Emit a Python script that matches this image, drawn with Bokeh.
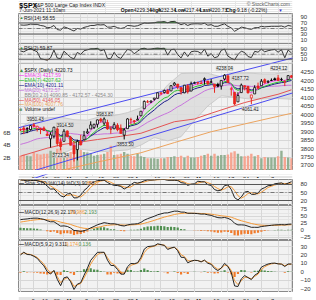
import numpy as np
from bokeh.plotting import figure
from bokeh.layouts import column
from bokeh.models import Range1d, LinearAxis, FixedTicker, Label, Grid, Span
from bokeh.embed import file_html
from bokeh.resources import INLINE

# ---------------- data (read / estimated from the chart) ----------------
tick_idx = [0, 4, 8, 13, 18, 23, 28, 33, 36, 42, 47, 52, 57, 62, 67, 72, 77, 81]
tick_lbl = ["9", "16", "22", "Mar", "8", "15", "22", "29", "Apr", "12", "19", "26",
            "May", "10", "17", "24", "Jun", "7"]
month_lbls = ["Mar", "Apr", "May", "Jun"]

prev_close_first = 3915.59
opens = [3910.5, 3920.8, 3916.4, 3911.7, 3939.6, 3918.5, 3915.9, 3921.2, 3885.6, 3857.1,
         3873.7, 3915.8, 3839.7, 3842.5, 3903.6, 3864.0, 3818.5, 3793.6, 3844.4, 3851.9,
         3892.0, 3915.5, 3924.5, 3943.0, 3973.6, 3949.6, 3953.5, 3913.1, 3916.5, 3937.6,
         3919.9, 3879.3, 3917.1, 3969.3, 3963.3, 3967.3, 3992.8, 4034.4, 4075.6, 4074.3,
         4090.0, 4096.1, 4124.7, 4130.1, 4141.6, 4139.8, 4174.1, 4179.8, 4159.2, 4128.4,
         4170.5, 4138.8, 4185.0, 4188.3, 4185.1, 4206.1, 4198.1, 4192.0, 4179.0, 4177.1,
         4169.1, 4210.3, 4228.3, 4150.3, 4130.6, 4075.0, 4129.6, 4169.9, 4165.9, 4098.5,
         4122.0, 4168.6, 4170.2, 4205.9, 4191.6, 4201.9, 4210.8, 4216.5, 4206.8, 4191.4,
         4206.1, 4229.3]
highs = [3918.4, 3931.5, 3926.0, 3937.2, 3950.4, 3933.6, 3922.0, 3930.4, 3902.9, 3896.0,
         3928.7, 3925.0, 3861.1, 3914.5, 3906.4, 3874.5, 3843.7, 3851.7, 3881.1, 3903.8,
         3917.4, 3960.3, 3945.0, 3970.1, 3981.0, 3983.9, 3969.6, 3930.1, 3955.3, 3949.1,
         3942.1, 3919.5, 3978.2, 3981.8, 3968.0, 3994.4, 4020.6, 4083.4, 4086.2, 4083.1,
         4098.2, 4129.5, 4131.8, 4148.0, 4151.7, 4173.5, 4191.3, 4180.8, 4159.2, 4175.0,
         4179.6, 4194.2, 4194.2, 4193.4, 4201.5, 4218.8, 4198.1, 4209.4, 4179.0, 4187.7,
         4202.7, 4238.0, 4236.4, 4162.0, 4134.7, 4131.6, 4183.1, 4171.9, 4169.2, 4116.9,
         4172.8, 4188.7, 4209.5, 4213.4, 4202.6, 4213.4, 4218.4, 4234.1, 4217.4, 4204.4,
         4233.5, 4232.3]
lows = [3902.6, 3884.9, 3890.4, 3905.8, 3923.9, 3900.4, 3885.0, 3903.1, 3874.7, 3805.6,
        3859.6, 3814.0, 3789.5, 3842.5, 3868.6, 3818.9, 3723.3, 3730.2, 3819.3, 3851.9,
        3885.7, 3915.5, 3915.2, 3923.5, 3953.4, 3935.7, 3910.9, 3886.8, 3914.2, 3901.6,
        3889.1, 3853.5, 3917.1, 3943.3, 3944.4, 3967.0, 3992.8, 4034.4, 4068.1, 4068.3,
        4082.5, 4095.5, 4114.8, 4124.4, 4120.9, 4139.8, 4170.8, 4150.5, 4118.4, 4126.4,
        4123.7, 4138.8, 4182.4, 4176.2, 4181.8, 4176.8, 4174.9, 4188.0, 4128.6, 4160.9,
        4147.3, 4201.6, 4188.1, 4111.5, 4056.9, 4075.0, 4129.6, 4142.7, 4126.0, 4061.4,
        4122.0, 4151.7, 4170.2, 4182.5, 4184.1, 4197.8, 4203.6, 4197.6, 4198.3, 4167.9,
        4206.1, 4217.4]
closes = [3911.2, 3909.9, 3916.4, 3934.8, 3932.6, 3931.3, 3914.0, 3906.7, 3876.5, 3881.4,
          3925.4, 3829.3, 3811.2, 3901.8, 3870.3, 3819.7, 3768.5, 3841.9, 3821.4, 3875.4,
          3898.8, 3939.3, 3943.3, 3968.9, 3962.7, 3974.1, 3915.5, 3913.1, 3940.6, 3910.5,
          3889.1, 3909.5, 3974.5, 3971.1, 3958.6, 3972.9, 4019.9, 4077.9, 4073.9, 4080.0,
          4097.2, 4128.8, 4128.0, 4141.6, 4124.7, 4170.4, 4185.5, 4163.3, 4134.9, 4173.4,
          4135.0, 4180.2, 4187.6, 4186.7, 4183.2, 4211.5, 4181.2, 4192.7, 4164.7, 4167.6,
          4201.6, 4232.6, 4188.4, 4152.1, 4063.0, 4112.5, 4173.9, 4163.3, 4127.8, 4115.7,
          4159.1, 4155.9, 4197.1, 4188.1, 4196.0, 4200.9, 4204.1, 4202.0, 4208.1, 4192.9,
          4229.9, 4220.7]
volume_b = [2.3, 2.5, 2.3, 2.2, 2.8, 2.6, 2.5, 2.6, 2.6, 3.1,
            2.9, 3.4, 3.5, 2.9, 2.6, 2.9, 3.6, 3.7, 3.2, 2.9,
            2.8, 2.7, 2.3, 2.4, 2.5, 2.6, 2.9, 3.9, 2.4, 2.5,
            2.6, 2.9, 2.6, 2.3, 2.2, 2.6, 2.2, 2.1, 1.9, 1.9,
            1.9, 1.8, 1.9, 1.9, 2.1, 2.1, 2.2, 2.1, 2.3, 2.0,
            2.3, 2.0, 2.0, 2.1, 2.3, 2.4, 2.6, 2.3, 2.6, 2.3,
            2.4, 2.4, 2.5, 2.8, 3.0, 2.6, 2.2, 2.2, 2.3, 2.6,
            2.2, 2.4, 1.9, 2.1, 2.0, 2.0, 2.0, 2.2, 3.1, 2.1,
            2.0, 1.9]
ema3 = [3912.0, 3910.9, 3913.6, 3924.2, 3928.4, 3929.9, 3921.9, 3914.3, 3895.4, 3888.4,
        3906.9, 3868.1, 3839.6, 3870.7, 3870.5, 3845.1, 3806.8, 3824.4, 3822.9, 3849.2,
        3874.0, 3906.7, 3925.0, 3947.0, 3954.9, 3964.5, 3940.0, 3926.6, 3933.6, 3922.1,
        3905.6, 3907.6, 3941.1, 3956.1, 3957.3, 3965.1, 3992.5, 4035.2, 4054.6, 4067.3,
        4082.2, 4105.5, 4116.7, 4129.1, 4126.9, 4148.7, 4167.1, 4165.2, 4150.1, 4161.8,
        4148.4, 4164.3, 4176.0, 4181.4, 4182.3, 4196.9, 4189.0, 4190.8, 4177.7, 4172.7,
        4187.2, 4209.9, 4199.2, 4175.6, 4119.3, 4115.9, 4144.9, 4154.1, 4141.0, 4128.3,
        4143.7, 4149.8, 4173.4, 4180.8, 4188.4, 4194.6, 4199.4, 4200.7, 4204.4, 4198.6,
        4214.2, 4217.6]
ema7 = [3897.6, 3900.7, 3904.6, 3912.2, 3917.3, 3920.8, 3919.1, 3916.0, 3906.1, 3899.9,
        3906.3, 3887.1, 3868.1, 3876.5, 3875.0, 3861.2, 3838.0, 3839.0, 3834.6, 3844.8,
        3858.3, 3878.6, 3894.8, 3913.3, 3925.7, 3937.8, 3932.2, 3927.4, 3930.7, 3925.7,
        3916.5, 3914.8, 3929.7, 3940.0, 3944.7, 3951.7, 3968.8, 3996.1, 4015.5, 4031.6,
        4048.0, 4068.2, 4083.2, 4097.8, 4104.5, 4121.0, 4137.1, 4143.6, 4141.5, 4149.5,
        4145.8, 4154.4, 4162.7, 4168.7, 4172.3, 4182.1, 4181.9, 4184.6, 4179.6, 4176.6,
        4182.9, 4195.3, 4193.6, 4183.2, 4153.2, 4143.0, 4150.7, 4153.9, 4147.4, 4139.4,
        4144.3, 4147.2, 4159.7, 4166.8, 4174.1, 4180.8, 4186.6, 4190.5, 4194.9, 4194.4,
        4203.3, 4207.6]
ema10 = [3885.7, 3890.1, 3894.9, 3902.2, 3907.7, 3912.0, 3912.4, 3911.4, 3905.0, 3900.7,
         3905.2, 3891.4, 3876.8, 3881.4, 3879.4, 3868.5, 3850.3, 3848.8, 3843.8, 3849.6,
         3858.5, 3873.2, 3886.0, 3901.1, 3912.3, 3923.5, 3922.1, 3920.5, 3924.1, 3921.6,
         3915.7, 3914.6, 3925.5, 3933.8, 3938.3, 3944.6, 3958.3, 3980.1, 3997.2, 4012.3,
         4027.7, 4046.1, 4061.0, 4075.7, 4084.6, 4100.2, 4115.7, 4124.4, 4126.3, 4134.9,
         4134.9, 4143.1, 4151.2, 4157.7, 4162.3, 4171.3, 4173.1, 4176.7, 4174.5, 4173.2,
         4178.4, 4188.3, 4188.3, 4181.7, 4160.1, 4151.4, 4155.5, 4156.9, 4151.6, 4145.1,
         4147.6, 4149.1, 4157.8, 4163.3, 4169.3, 4175.0, 4180.3, 4184.3, 4188.6, 4189.4,
         4196.8, 4201.1]
ma20 = [3824.4, 3829.8, 3835.2, 3842.2, 3850.4, 3857.1, 3860.3, 3863.0, 3864.8, 3866.1,
        3869.9, 3873.9, 3875.1, 3884.5, 3889.3, 3889.0, 3885.9, 3884.4, 3881.1, 3879.1,
        3878.5, 3880.0, 3881.3, 3883.0, 3884.5, 3886.6, 3886.7, 3887.0, 3890.2, 3891.7,
        3889.9, 3893.9, 3902.1, 3905.6, 3910.0, 3917.7, 3930.3, 3942.1, 3954.7, 3964.9,
        3974.8, 3984.3, 3993.5, 4002.1, 4010.2, 4020.0, 4033.5, 4046.0, 4055.7, 4068.8,
        4081.1, 4094.6, 4105.3, 4116.1, 4127.3, 4139.2, 4147.3, 4153.0, 4157.5, 4161.9,
        4167.1, 4172.3, 4175.3, 4175.8, 4172.7, 4169.8, 4169.2, 4169.2, 4168.8, 4165.9,
        4167.1, 4165.9, 4166.4, 4166.5, 4167.1, 4166.6, 4167.7, 4168.2, 4170.4, 4171.7,
        4173.1, 4172.6]
bb_x = [0, 4, 8, 12, 16, 20, 24, 28, 32, 36, 40, 44, 48, 52, 56, 60, 64, 68, 72, 76, 81]
bb_upper = [3924, 3970, 3981, 3985, 3970, 3967, 3989, 3994, 4012, 4040, 4085,
            4175, 4242, 4245, 4243, 4223, 4243, 4245, 4240, 4240, 4254.3]
bb_lower = [3724, 3730, 3749, 3765, 3802, 3791, 3781, 3786, 3792, 3820, 3865,
            3845, 3870, 3965, 4051, 4111, 4103, 4093, 4092, 4096, 4090.9]
ma50_x = [0, 8, 13, 23, 30, 36, 46, 52, 57, 62, 67, 72, 77, 81]
ma50 = [3755, 3802, 3825, 3853, 3872, 3890, 3958, 3974, 4008, 4040, 4071, 4096, 4120, 4146.1]
ma100_x = [0, 8, 13, 23, 36, 46, 57, 67, 77, 81]
ma100 = [3607, 3650, 3675, 3720, 3775, 3835, 3899, 3945, 3990, 4007.8]
rsi14 = [63, 62, 63, 66, 65, 65, 61, 59, 53, 54,
         61, 46, 44, 56, 52, 46, 41, 50, 48, 54,
         57, 61, 61, 64, 63, 64, 55, 55, 58, 53,
         50, 53, 61, 60, 58, 60, 65, 70, 69, 70,
         71, 74, 74, 75, 71, 75, 76, 70, 64, 68,
         61, 66, 67, 67, 66, 69, 62, 64, 58, 58,
         63, 67, 58, 52, 40, 47, 55, 53, 49, 47,
         53, 53, 58, 56, 57, 58, 58, 58, 59, 55,
         61, 58.55]
rsi2 = [75.8, 69.0, 83.6, 95.6, 81.4, 69.3, 13.9, 8.3, 1.9, 21.5,
        82.9, 18.8, 14.6, 73.7, 49.8, 24.4, 12.0, 64.2, 48.2, 77.6,
        85.0, 93.0, 93.6, 97.1, 76.7, 86.9, 15.9, 14.9, 65.1, 28.5,
        15.8, 54.5, 88.4, 81.8, 53.5, 74.1, 93.4, 97.7, 89.6, 91.7,
        96.1, 98.7, 95.5, 97.8, 42.5, 85.9, 90.5, 45.8, 20.2, 68.3,
        31.0, 69.7, 74.5, 71.8, 56.0, 90.4, 33.9, 55.2, 21.5, 30.3,
        80.9, 91.7, 35.0, 17.3, 5.0, 47.0, 74.7, 63.3, 31.3, 23.2,
        72.9, 66.3, 89.6, 69.1, 77.9, 83.9, 88.0, 65.8, 86.2, 21.6,
        83.1, 59.87]
sto_k = [97.3, 95.6, 93.8, 94.5, 95.2, 94.9, 90.5, 86.3, 74.0, 62.8,
         63.5, 50.5, 37.5, 33.2, 44.5, 46.3, 29.6, 30.3, 39.6, 57.4,
         68.2, 83.1, 89.5, 94.5, 95.1, 96.2, 87.6, 80.9, 76.7, 76.0,
         72.6, 63.1, 70.1, 79.3, 87.9, 85.2, 88.3, 94.0, 97.3, 96.5,
         97.2, 98.9, 99.3, 98.7, 95.8, 95.8, 95.8, 95.1, 87.1, 84.9,
         76.7, 81.3, 82.6, 92.3, 90.3, 89.7, 79.4, 76.5, 60.9, 56.4,
         59.3, 75.8, 78.3, 61.4, 30.7, 22.1, 32.9, 51.4, 54.2, 43.5,
         42.7, 47.9, 62.8, 68.2, 75.5, 76.5, 82.7, 84.4, 86.0, 80.0,
         85.2, 90.63]
sto_d = [96.4, 96.6, 95.6, 94.6, 94.5, 94.9, 93.5, 90.6, 83.6, 74.4,
         66.8, 58.9, 50.5, 40.4, 38.4, 41.3, 40.1, 35.4, 33.2, 42.4,
         55.1, 69.6, 80.3, 89.0, 93.0, 95.3, 93.0, 88.2, 81.7, 77.9,
         75.1, 70.6, 68.6, 70.8, 79.1, 84.1, 87.1, 89.2, 93.2, 95.9,
         97.0, 97.5, 98.5, 99.0, 97.9, 96.8, 95.8, 95.6, 92.7, 89.0,
         82.9, 81.0, 80.2, 85.4, 88.4, 90.8, 86.5, 81.9, 72.3, 64.6,
         58.9, 63.8, 71.1, 71.8, 56.8, 38.1, 28.6, 35.5, 46.2, 49.7,
         46.8, 44.7, 51.1, 59.6, 68.8, 73.4, 78.2, 81.2, 84.4, 83.5,
         83.9, 85.27]
macd = [38.3, 39.6, 40.7, 42.5, 43.3, 43.4, 41.5, 39.0, 34.2, 30.4,
        30.7, 22.8, 14.9, 15.8, 13.8, 8.1, -0.6, -1.6, -3.9, -1.4,
        2.4, 8.7, 13.8, 19.7, 23.6, 27.3, 25.2, 23.1, 23.4, 20.9,
        17.0, 15.4, 19.1, 21.6, 22.3, 23.7, 28.2, 36.1, 41.6, 45.9,
        50.1, 55.4, 58.8, 61.9, 62.3, 65.5, 68.5, 68.3, 65.1, 64.9,
        60.9, 60.8, 60.5, 59.5, 57.8, 58.1, 55.3, 53.3, 49.0, 45.2,
        44.4, 45.8, 42.8, 37.1, 25.1, 19.3, 19.5, 18.6, 14.8, 10.7,
        10.8, 10.5, 13.5, 14.9, 16.5, 18.0, 19.2, 19.8, 20.4, 19.5,
        21.5, 22.18]
macd_sig = [29.3, 31.4, 33.2, 35.1, 36.7, 38.0, 38.7, 38.8, 37.9, 36.4,
            35.3, 32.8, 29.2, 26.5, 24.0, 20.8, 16.5, 12.9, 9.5, 7.3,
            6.3, 6.8, 8.2, 10.5, 13.1, 16.0, 17.8, 18.9, 19.8, 20.0,
            19.4, 18.6, 18.7, 19.3, 19.9, 20.7, 22.2, 25.0, 28.3, 31.8,
            35.5, 39.5, 43.4, 47.1, 50.1, 53.2, 56.3, 58.7, 60.0, 61.0,
            61.0, 61.0, 60.9, 60.6, 60.0, 59.6, 58.7, 57.6, 55.9, 53.8,
            51.9, 50.7, 49.1, 46.7, 42.4, 37.8, 34.1, 31.0, 27.8, 24.4,
            21.7, 19.5, 18.3, 17.6, 17.4, 17.5, 17.8, 18.2, 18.6, 18.8,
            19.3, 19.99]
macd2 = [20.0, 23.3, 20.6, 20.3, 18.5, 16.1, 11.4, 7.2, 0.4, -2.5,
         1.9, -8.7, -16.2, -7.0, -5.8, -11.6, -20.7, -14.4, -12.8, -3.9,
         4.3, 13.7, 18.4, 23.1, 23.2, 23.2, 13.9, 7.7, 7.5, 2.9,
         -2.6, -2.6, 6.2, 10.0, 9.7, 10.8, 17.0, 26.9, 29.9, 30.3,
         30.8, 33.2, 32.2, 31.3, 26.5, 28.2, 29.3, 25.0, 17.3, 17.1,
         10.8, 12.7, 13.8, 13.4, 11.8, 14.0, 10.2, 9.0, 4.1, 1.6,
         4.6, 10.1, 6.4, -0.8, -16.5, -17.2, -8.2, -4.3, -6.6, -9.0,
         -3.9, -1.4, 5.6, 7.7, 9.3, 10.2, 10.4, 9.5, 9.2, 6.4,
         9.4, 9.31]
macd2_sig = [21.0, 22.5, 21.2, 20.6, 19.2, 17.1, 13.3, 9.2, 3.3, -0.6,
             1.1, -5.4, -12.6, -8.9, -6.8, -10.0, -17.1, -15.3, -13.6, -7.1,
             0.5, 9.3, 15.4, 20.5, 22.3, 22.9, 16.9, 10.8, 8.6, 4.8,
             -0.1, -1.8, 3.5, 7.8, 9.1, 10.2, 14.7, 22.8, 27.5, 29.4,
             30.3, 32.2, 32.2, 31.6, 28.2, 28.2, 28.9, 26.3, 20.3, 18.2,
             13.3, 12.9, 13.5, 13.4, 12.3, 13.4, 11.3, 9.8, 6.0, 3.1,
             4.1, 8.1, 7.0, 1.8, -10.4, -14.9, -10.4, -6.3, -6.5, -8.2,
             -5.3, -2.7, 2.8, 6.1, 8.2, 9.5, 10.1, 9.7, 9.4, 7.4,
             8.7, 9.17]
# user-drawn trend channel (date index, price)
trend_upper = [(-4.99, 3900.4), (87.76, 4366.0)]
trend_lower = [(-4.99, 3616.0), (87.76, 4165.7)]
# pivot annotations: (text, date index, price)
pivots = [("3950.43", 4.4, 3977), ("3914.50", 13.3, 3941), ("3723.34", 12.0, 3759),
          ("3983.87", 25.2, 4006), ("3853.50", 31.3, 3824), ("4238.04", 61.0, 4272),
          ("4187.72", 65.7, 4213), ("4061.41", 68.7, 4036), ("4234.12", 77.2, 4272)]

N = len(closes)
for arr in (opens, highs, lows, volume_b, ema3, ema7, ema10, ma20, rsi14, rsi2,
            sto_k, sto_d, macd, macd_sig, macd2, macd2_sig):
    assert len(arr) == N, len(arr)

# ---------------- geometry & style ----------------
FONT = "Liberation Sans"
DAY = 3.407
X0PX = 17.0
BG = "#f2f2f2"
GRID = "#d7d7d7"
OUTLINE = "#8a8a8a"
RED = "#e8261e"
ORANGE = "#f39a3a"
HGREEN = "#4f8f4f"
HORANGE = "#f07a2a"
AXFS = "6px"


def xd(px):
    return (px - X0PX) / DAY


# top = page px of the frame top, h = frame height, (y0, y1) = value range of the frame
# pad_t / pad_b = extra canvas above / below the frame
def pan(top, h, y0, y1, full=False, pad_t=0, pad_b=0):
    return dict(top=top, h=h, y0=y0, y1=y1, full=full, pad_t=pad_t, pad_b=pad_b)


def yd(P, py):
    return P["y1"] - (py - P["top"]) * (P["y1"] - P["y0"]) / P["h"]


HEAD = pan(0, 13, 0, 13, True)
RSI14 = pan(13, 30, -4.5, 104.5)
RSI2 = pan(43, 20, -24.4, 135.6)
PRICE = pan(63, 107, 3670.5, 4301.3)
STRIP = pan(170, 8, 3623.3, 3670.5, True)
STO = pan(179, 26, 1.3, 98.7, pad_t=1)
MACD1 = pan(205, 35, -36.4, 88.6)
MACD2 = pan(240, 52, -24.25, 37.08)
STRIP2 = pan(292, 8, 0, 8, True)


def make_fig(P, yticks=None, bg=BG, outline=OUTLINE, xpix=False):
    if P["full"]:
        xr = Range1d(0, 316) if xpix else Range1d(xd(0), xd(316))
        mbl = mbr = 0
    else:
        xr = Range1d(xd(15), xd(294))
        mbl, mbr = 15, 22
    p = figure(width=316, height=P["h"] + P["pad_t"] + P["pad_b"], x_range=xr,
               y_range=Range1d(P["y0"], P["y1"]),
               x_axis_location=None, y_axis_location=None, toolbar_location=None,
               output_backend="svg", min_border_left=mbl, min_border_right=mbr,
               min_border_top=P["pad_t"], min_border_bottom=P["pad_b"],
               background_fill_color=bg, border_fill_color="white", outline_line_color=outline)
    if not P["full"]:
        p.add_layout(Grid(dimension=0, ticker=FixedTicker(ticks=tick_idx),
                          grid_line_color=GRID, grid_line_width=1))
    if yticks is not None:
        p.add_layout(Grid(dimension=1, ticker=FixedTicker(ticks=yticks),
                          grid_line_color=GRID, grid_line_width=1))
        ax = LinearAxis(ticker=FixedTicker(ticks=yticks), axis_line_color=None,
                        major_tick_line_color=None, minor_tick_line_color=None,
                        major_label_text_font_size=AXFS, major_label_text_font=FONT,
                        major_label_text_color="#333333", major_label_standoff=2)
        p.add_layout(ax, "right")
    return p


def lab(p, P, px, py, text, color="#111111", size=5.0, bold=False, align="left",
        xpix=False):
    x = px if xpix else xd(px)
    p.add_layout(Label(x=x, y=yd(P, py), text=text, text_color=color,
                       text_font_size=f"{size}px", text_font=FONT,
                       text_font_style="bold" if bold else "normal",
                       text_align=align, text_baseline="middle"))


def hline(p, y, color="#555555", dash="solid", width=1):
    p.add_layout(Span(location=y, dimension="width", line_color=color,
                      line_dash=dash, line_width=width))


idx = np.arange(N)
cl = np.array(closes)
op = np.array(opens)
prev = np.concatenate([[prev_close_first], cl[:-1]])
up = cl >= prev
ccol = np.where(up, "#000000", RED)
cfill = np.where(cl > op, "white", ccol)
vcol = np.where(up, "#93b093", "#f5a591")

# ---------------- header ----------------
ph = make_fig(HEAD, bg="white", outline=None, xpix=True)
lab(ph, HEAD, 1, 4.6, "$SPX", "#000000", 7.0, True, xpix=True)
lab(ph, HEAD, 17.5, 4.6, "S&P 500 Large Cap Index  INDX", "#222222", 5.0, xpix=True)
lab(ph, HEAD, 1, 9.6, "7-Jun-2021 11:10am", "#222222", 5.0, xpix=True)
lab(ph, HEAD, 313, 3.8, "\u00a9 StockCharts.com", "#666666", 5.0, align="right", xpix=True)
hdr = [("Open", 118, True), ("4229.34", 133, False), ("High", 152, True),
       ("4232.34", 161, False), ("Low", 180, True), ("4217.44", 190, False),
       ("Last", 209, True), ("4220.73", 220, False), ("Chg", 239, True),
       ("-9.18 (-0.22%)", 250, False)]
for t, x, b in hdr:
    lab(ph, HEAD, x, 9.6, t, "#111111", 5.0, b, xpix=True)
lab(ph, HEAD, 299.5, 9.6, "\u25bc", "#3a3ad0", 4.5, xpix=True)

# ---------------- RSI(14) ----------------
p1 = make_fig(RSI14, [10, 30, 50, 70, 90])
hline(p1, 70, "#555555")
hline(p1, 30, "#555555")
hline(p1, 50, "#777777", "4 2 1 2")
r14 = np.array(rsi14)
p1.varea(x=idx, y1=70, y2=np.maximum(r14, 70), fill_color="#3f9a3f")
p1.line(idx, r14, line_color="#222222", line_width=0.9)
lab(p1, RSI14, 16, 17.0, "\u25b2", "#3f8f3f", 4.0)
lab(p1, RSI14, 20.5, 17.0, "RSI(14) 58.55", "#222222", 5.0)

# ---------------- RSI(2) ----------------
p2 = make_fig(RSI2, [10, 50, 90])
hline(p2, 90, "#555555")
hline(p2, 10, "#555555")
hline(p2, 50, "#777777", "4 2 1 2")
r2 = np.array(rsi2)
p2.varea(x=idx, y1=90, y2=np.maximum(r2, 90), fill_color="#3f9a3f")
p2.varea(x=idx, y1=10, y2=np.minimum(r2, 10), fill_color=HORANGE)
p2.line(idx, r2, line_color="#222222", line_width=0.9)


def price_to_panel(P, price):
    py = PRICE["top"] + (PRICE["y1"] - price) * PRICE["h"] / (PRICE["y1"] - PRICE["y0"])
    return yd(P, py)


tl = trend_upper
p2.line([tl[0][0], tl[1][0]], [price_to_panel(RSI2, tl[0][1]), price_to_panel(RSI2, tl[1][1])],
        line_color="#4b4bf0", line_width=1)
lab(p2, RSI2, 16, 47.0, "\u25b2", "#3f8f3f", 4.0)
lab(p2, RSI2, 20.5, 47.0, "RSI(2) 59.87", "#222222", 5.0)

# ---------------- price ----------------
pp = make_fig(PRICE, [3700, 3750, 3800, 3850, 3900, 3950, 4000, 4050, 4100, 4150, 4200, 4250])
pp.extra_y_ranges = {"vol": Range1d(-0.08, 17.12)}
vax = LinearAxis(y_range_name="vol", ticker=FixedTicker(ticks=[2, 4, 6]),
                 major_label_overrides={2: "2B", 4: "4B", 6: "6B"}, axis_line_color=None,
                 major_tick_line_color=None, minor_tick_line_color=None,
                 major_label_text_font_size=AXFS, major_label_text_font=FONT,
                 major_label_text_color="#333333", major_label_standoff=2)
pp.add_layout(vax, "left")
pp.varea(x=bb_x, y1=bb_lower, y2=bb_upper, fill_color="#dcdcdc", fill_alpha=0.85)
pp.line(bb_x, bb_upper, line_color="#c4c4c4", line_width=0.8)
pp.line(bb_x, bb_lower, line_color="#c4c4c4", line_width=0.8)
pp.vbar(x=idx, width=0.72, top=volume_b, bottom=0, y_range_name="vol",
        fill_color=vcol, line_color=None)
pp.line(ma100_x, ma100, line_color="#eba35e", line_width=1)
pp.line(ma50_x, ma50, line_color="#e35454", line_width=1)
pp.line(idx, ma20, line_color="#c774dc", line_width=1)
pp.line(idx, ema10, line_color="#1c1c8a", line_width=1)
pp.line(idx, ema7, line_color="#2fbf2f", line_width=1)
pp.line(idx, ema3, line_color="#ee3ee8", line_width=1)
for tl in (trend_upper, trend_lower):
    pp.line([tl[0][0], tl[1][0]], [tl[0][1], tl[1][1]], line_color="#4b4bf0", line_width=1)
pp.segment(x0=idx, y0=lows, x1=idx, y1=highs, line_color=ccol, line_width=1)
pp.vbar(x=idx, width=0.6, top=np.maximum(op, cl), bottom=np.minimum(op, cl),
        fill_color=cfill, line_color=ccol, line_width=0.8)
for t, xi, pr in pivots:
    pp.add_layout(Label(x=xi, y=pr, text=t, text_font_size="4.6px", text_font=FONT,
                        text_color="#222222", text_align="center", text_baseline="middle",
                        background_fill_color="#ededed", background_fill_alpha=0.9,
                        border_line_color="#b0b0b0", border_line_width=0.5))
legend = [("\u25b2", "$SPX (Daily) 4220.73", "#3f8f3f", "#111111", 69),
          ("\u2014", "EMA(3) 4217.59", "#ee3ee8", "#ee3ee8", 74.5),
          ("\u2014", "EMA(7) 4207.62", "#2fbf2f", "#2fbf2f", 79.5),
          ("\u2014", "EMA(10) 4201.11", "#1c1c8a", "#1c1c8a", 84.3),
          ("\u2014", "MA(20) 4172.57", "#c774dc", "#c774dc", 89.2),
          ("", "BB(20,2.0) 4090.85 - 4172.57 - 4254.30", "#999999", "#8a8a8a", 94),
          ("\u2014", "MA(50) 4146.05", "#e35454", "#e35454", 99),
          ("\u2014", "MA(100) 4007.76", "#eba35e", "#eba35e", 103.8),
          ("\u25a0", "Volume undef", "#6f9a6f", "#111111", 108.5)]
for icon, txt, ic, tc, py in legend:
    if icon:
        lab(pp, PRICE, 15.5, py, icon, ic, 5.0, True)
    lab(pp, PRICE, 21, py, txt, tc, 5.0)


# ---------------- date strips ----------------
def date_strip(P, with_trend=False):
    s = make_fig(P, bg="white", outline=None)
    ymid = yd(P, P["top"] + P["h"] / 2.0)
    if with_trend:
        tl = trend_lower
        s.line([tl[0][0], tl[1][0]], [tl[0][1], tl[1][1]], line_color="#4b4bf0", line_width=1)
    for i, t in zip(tick_idx, tick_lbl):
        s.add_layout(Label(x=i, y=ymid, text=t, text_font_size="5.5px", text_font=FONT,
                           text_font_style="bold" if t in month_lbls else "normal",
                           text_color="#1a1a1a", text_align="center",
                           text_baseline="middle"))
    return s


ps1 = date_strip(STRIP, True)
ps2 = date_strip(STRIP2)

# ---------------- Slow STO ----------------
pst = make_fig(STO, [20, 50, 80])
hline(pst, 80, "#555555")
hline(pst, 20, "#555555")
hline(pst, 50, "#777777", "4 2 1 2")
pst.line(idx, sto_d, line_color=ORANGE, line_width=1)
pst.line(idx, sto_k, line_color="#222222", line_width=1)
lab(pst, STO, 15.5, 182.8, "\u2014", "#111111", 5.0, True)
lab(pst, STO, 21, 182.8, "Slow STO %K(14) %D(3) 90.63,", "#222222", 5.0)
lab(pst, STO, 84.5, 182.8, "85.27", ORANGE, 5.0)

# ---------------- MACD(12,26,9) ----------------
pm1 = make_fig(MACD1, [-25, 0, 25, 50, 75])
h1 = np.array(macd) - np.array(macd_sig)
pm1.vbar(x=idx, width=0.65, top=h1, bottom=0,
         fill_color=np.where(h1 >= 0, HGREEN, HORANGE), line_color=None)
pm1.line(idx, macd_sig, line_color=ORANGE, line_width=1)
pm1.line(idx, macd, line_color="#222222", line_width=1)
lab(pm1, MACD1, 15.5, 211.5, "\u2014", "#111111", 5.0, True)
lab(pm1, MACD1, 21, 211.5, "MACD(12,26,9) 22.179,", "#222222", 5.0)
lab(pm1, MACD1, 67, 211.5, "19.986,", ORANGE, 5.0)
lab(pm1, MACD1, 82, 211.5, "2.193", HGREEN, 5.0)

# ---------------- MACD(5,9,2) ----------------
pm2 = make_fig(MACD2, [-20, -10, 0, 10, 20, 30])
h2 = np.array(macd2) - np.array(macd2_sig)
pm2.vbar(x=idx, width=0.65, top=h2, bottom=0,
         fill_color=np.where(h2 >= 0, HGREEN, HORANGE), line_color=None)
pm2.line(idx, macd2_sig, line_color=ORANGE, line_width=1)
pm2.line(idx, macd2, line_color="#222222", line_width=1)
lab(pm2, MACD2, 15.5, 243.8, "\u2014", "#111111", 5.0, True)
lab(pm2, MACD2, 21, 243.8, "MACD(5,9,2) 9.311,", "#222222", 5.0)
lab(pm2, MACD2, 63, 243.8, "9.174,", ORANGE, 5.0)
lab(pm2, MACD2, 76, 243.8, "0.136", HGREEN, 5.0)

layout = column(ph, p1, p2, pp, ps1, pst, pm1, pm2, ps2, spacing=0)
html = file_html(layout, INLINE, "$SPX")
html = html.replace("<head>", "<head><style>html,body{margin:0;padding:0;}</style>", 1)
open("out.html", "w").write(html)
